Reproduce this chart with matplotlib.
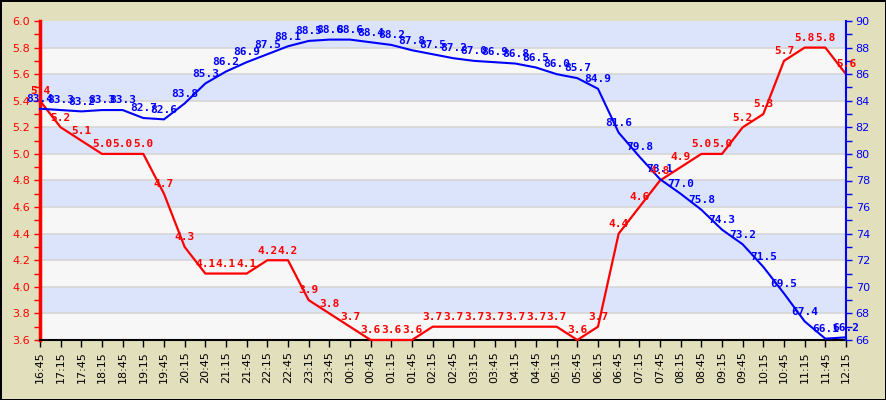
import matplotlib
matplotlib.use("Agg")
import matplotlib.pyplot as plt
import numpy as np

times = ["16:45", "17:15", "17:45", "18:15", "18:45", "19:15", "19:45", "20:15",
         "20:45", "21:15", "21:45", "22:15", "22:45", "23:15", "23:45", "00:15",
         "00:45", "01:15", "01:45", "02:15", "02:45", "03:15", "03:45", "04:15",
         "04:45", "05:15", "05:45", "06:15", "06:45", "07:15", "07:45", "08:15",
         "08:45", "09:15", "09:45", "10:15", "10:45", "11:15", "11:45", "12:15"]

red_values = [5.4, 5.2, 5.1, 5.0, 5.0, 5.0, 4.7, 4.3,
              4.1, 4.1, 4.1, 4.2, 4.2, 3.9, 3.8, 3.7,
              3.6, 3.6, 3.6, 3.7, 3.7, 3.7, 3.7, 3.7,
              3.7, 3.7, 3.6, 3.7, 4.4, 4.6, 4.8, 4.9,
              5.0, 5.0, 5.2, 5.3, 5.7, 5.8, 5.8, 5.6]

blue_values = [83.4, 83.3, 83.2, 83.3, 83.3, 82.7, 82.6, 83.8,
               85.3, 86.2, 86.9, 87.5, 88.1, 88.5, 88.6, 88.6,
               88.4, 88.2, 87.8, 87.5, 87.2, 87.0, 86.9, 86.8,
               86.5, 86.0, 85.7, 84.9, 81.6, 79.8, 78.1, 77.0,
               75.8, 74.3, 73.2, 71.5, 69.5, 67.4, 66.1, 66.2]

left_ticks = [3.6, 3.8, 4.0, 4.2, 4.4, 4.6, 4.8, 5.0, 5.2, 5.4, 5.6, 5.8, 6.0]
right_ticks = [66, 68, 70, 72, 74, 76, 78, 80, 82, 84, 86, 88, 90]

BG = "#E2DFBC"
BAND_BLUE = "#DCE4FC"
BAND_GRAY = "#F7F7F7"
GRID = "#D6D6D6"
RED = "#FF0000"
BLUE = "#0000FF"

W, H = 886, 400
fig = plt.figure(figsize=(W / 100, H / 100), dpi=100, facecolor=BG,
                 edgecolor="black", linewidth=2)
ax = fig.add_axes([40 / W, (H - 340) / H, 806 / W, 319 / H])
ax.set_facecolor(BAND_GRAY)

x = np.arange(len(times))
ax.set_xlim(0, len(times) - 1)
ax.set_ylim(3.6, 6.0)

# alternating bands
for i in range(len(left_ticks) - 1):
    lo, hi = left_ticks[i], left_ticks[i + 1]
    col = BAND_GRAY if i % 2 == 0 else BAND_BLUE
    ax.axhspan(lo, hi, color=col, zorder=0, lw=0)
for t in left_ticks[1:-1]:
    ax.axhline(t, color=GRID, lw=1.2, zorder=0.5)

ax2 = ax.twinx()
ax2.set_ylim(66, 90)
ax2.set_xlim(0, len(times) - 1)

# lines
ax2.plot(x, blue_values, color=BLUE, lw=1.5, zorder=3, clip_on=False)
ax.plot(x, red_values, color=RED, lw=1.6, zorder=3, clip_on=False)

lab_font = dict(family="DejaVu Sans Mono", weight="bold", size=8)
for xi, v in zip(x, blue_values):
    ax2.annotate(f"{v:.1f}", (xi, v), xytext=(0, 7), textcoords="offset points",
                 ha="center", va="center", color=BLUE, zorder=5, annotation_clip=False,
                 **lab_font)
for xi, v in zip(x, red_values):
    ax2.annotate(f"{v:.1f}", (xi, 66 + (v - 3.6) * 10), xytext=(0, 7),
                 textcoords="offset points", ha="center", va="center", color=RED,
                 zorder=6, annotation_clip=False, **lab_font)

# axes styling
ax.set_xticks(x)
ax.set_xticklabels(times, rotation=90, fontsize=8, color="black")
ax.set_yticks(left_ticks)
ax.set_yticklabels([f"{t:.1f}" for t in left_ticks], fontsize=8, color=RED)
ax.set_yticks(np.arange(3.7, 6.0, 0.2), minor=True)
ax.tick_params(axis="y", which="both", colors=RED, length=4, width=1, direction="out", pad=3)
ax.tick_params(axis="y", labelcolor=RED)
ax.tick_params(axis="x", colors="black", length=5, width=1, direction="out", pad=3)

ax2.set_yticks(right_ticks)
ax2.set_yticklabels([str(t) for t in right_ticks], fontsize=8, color=BLUE)
ax2.set_yticks(np.arange(67, 90, 2), minor=True)
ax2.tick_params(axis="y", which="both", colors=BLUE, length=4, width=1, direction="out", pad=3)

for sp in ["top", "right"]:
    ax.spines[sp].set_visible(False)
ax.spines["left"].set_color(RED)
ax.spines["left"].set_linewidth(2.5)
ax.spines["bottom"].set_color("black")
ax.spines["bottom"].set_linewidth(1.5)
for sp in ["top", "left", "bottom"]:
    ax2.spines[sp].set_visible(False)
ax2.spines["right"].set_color(BLUE)
ax2.spines["right"].set_linewidth(1.5)

fig.savefig("out.png", dpi=100, facecolor=BG, edgecolor="black")
